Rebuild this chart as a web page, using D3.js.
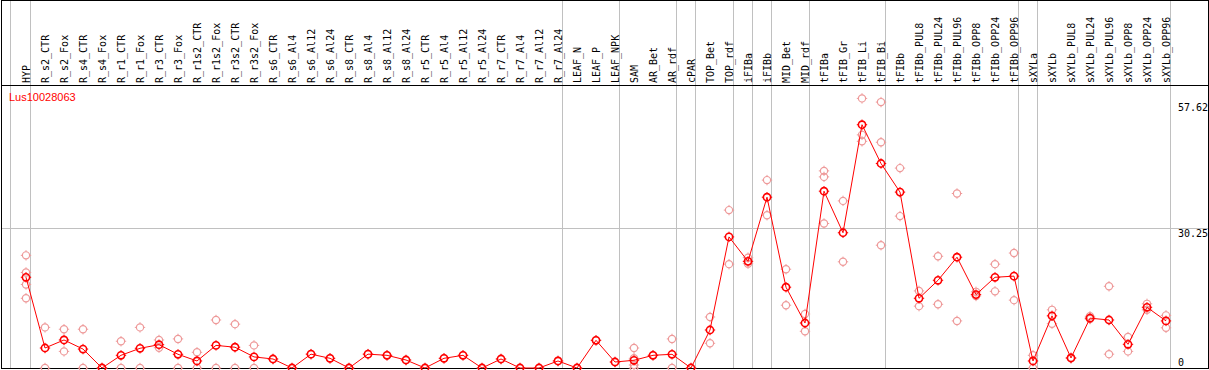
<!DOCTYPE html>
<html lang="en">
<head>
<meta charset="utf-8">
<title>Lus10028063</title>
<script src="https://d3js.org/d3.v7.min.js"></script>
<style>
  body { margin: 0; background: #fff; }
  .lbl { font-family: "DejaVu Sans Mono", monospace; font-size: 10px; fill: #000; }
</style>
</head>
<body>
<div id="chart"></div>
<script>
// sample names, left to right
var categories = ["HYP","R_s2_CTR","R_s2_Fox","R_s4_CTR","R_s4_Fox","R_r1_CTR","R_r1_Fox","R_r3_CTR","R_r3_Fox",
  "R_r1s2_CTR","R_r1s2_Fox","R_r3s2_CTR","R_r3s2_Fox","R_s6_CTR","R_s6_Al4","R_s6_Al12","R_s6_Al24",
  "R_s8_CTR","R_s8_Al4","R_s8_Al12","R_s8_Al24","R_r5_CTR","R_r5_Al4","R_r5_Al12","R_r5_Al24",
  "R_r7_CTR","R_r7_Al4","R_r7_Al12","R_r7_Al24","LEAF_N","LEAF_P","LEAF_NPK","SAM","AR_Bet","AR_rdf",
  "cPAR","TOP_Bet","TOP_rdf","iFIBa","iFIBb","MID_Bet","MID_rdf","tFIBa","tFIB_Gr","tFIB_Li","tFIB_Bi",
  "tFIBb","tFIBb_PUL8","tFIBb_PUL24","tFIBb_PUL96","tFIBb_OPP8","tFIBb_OPP24","tFIBb_OPP96",
  "sXYLa","sXYLb","sXYLb_PUL8","sXYLb_PUL24","sXYLb_PUL96","sXYLb_OPP8","sXYLb_OPP24","sXYLb_OPP96"];

// mean expression
var means = [19.65,4.33,6.07,4.1,0,2.75,4.27,5.05,2.97,
  1.52,4.9,4.5,2.4,1.95,0,3.0,2.1,
  0,3.0,2.75,1.73,0,2.1,2.75,0,
  1.95,0,0,1.52,0,6.0,1.3,1.67,2.75,2.97,
  0,8.23,28.4,23.1,37.0,17.5,9.75,38.3,29.3,52.7,44.3,
  38.1,15.1,19.0,24.0,15.9,19.65,19.9,
  1.52,11.3,2.17,10.8,10.4,5.13,13.15,10.2];

// individual replicates
var replicates = [[24.4,20.7,18.1,15.1],[8.8,0],[8.4,3.6],[8.4,0],[0,0],[5.8,0],[8.8,0],[6.07,4.4],[6.3,0],
  [3.4,0],[10.4,0],[9.5,0],[4.9,0],[1.95],[0],[3.0],[2.1],
  [0],[3.0],[2.75],[1.73],[0],[2.1],[2.75],[0],
  [1.95],[0],[0],[1.52],[0],[6.0],[1.3],[4.33,2.1,0.65,0],[2.75],[6.3,0],
  [0],[11.05,5.35],[34.2,22.5],[23.9,22.6],[40.7,33.1],[21.4,13.6],[11.7,7.95],[42.7,41.4,31.3],[36.2,23.0],[58.4,50.5,49.1],[57.6,48.9,26.6],
  [43.3,32.9],[16.7,13.4],[24.2,13.8],[37.8,10.2],[16.5,15.6],[22.5,16.6],[24.9,14.7],
  [2.75,0],[12.6,9.6],[2.2,2.1],[11.2,10.6],[17.7,3.0],[6.7,3.6],[13.9,12.6],[11.4,8.7]];

// last sample of each group (grey separators)
var groupEnds = ["HYP","R_r7_Al24","LEAF_NPK","AR_rdf","cPAR","TOP_rdf","iFIBa","iFIBb","MID_rdf",
  "tFIB_Bi","tFIBb_OPP96","sXYLa","sXYLb_OPP96"];

var yTicks = [0, 30.25, 57.62];
var title = "Lus10028063";

var width = 1209, height = 370;
var svg = d3.select("#chart").append("svg")
  .attr("width", width).attr("height", height);

var x = d3.scalePoint().domain(categories).range([26, 1166]);
var y = d3.scaleLinear().domain([0, 57.62]).range([368, 102]);

var grey = "#c0c0c0";

// separators
svg.append("line").attr("x1", 10.5).attr("x2", 10.5).attr("y1", 0).attr("y2", 369)
  .attr("stroke", grey);
svg.selectAll(".sep").data(groupEnds).enter().append("line")
  .attr("class", "sep")
  .attr("x1", function(d){ return Math.round(x(d) + 4) + 0.5; })
  .attr("x2", function(d){ return Math.round(x(d) + 4) + 0.5; })
  .attr("y1", 0).attr("y2", 369)
  .attr("stroke", grey);

// horizontal grid
yTicks.filter(function(t){ return t > 0 && t < 57.62; }).forEach(function(t){
  svg.append("line").attr("x1", 1).attr("x2", 1208)
    .attr("y1", Math.round(y(t)) + 0.5).attr("y2", Math.round(y(t)) + 0.5)
    .attr("stroke", grey);
});

// frame + header separator
svg.append("rect").attr("x", 1.5).attr("y", 0.5).attr("width", 1207).attr("height", 368)
  .attr("fill", "none").attr("stroke", "#000");
svg.append("line").attr("x1", 1).attr("x2", 1209).attr("y1", 85.5).attr("y2", 85.5)
  .attr("stroke", "#000");

// column labels
svg.selectAll(".cat").data(categories).enter().append("text")
  .attr("class", "lbl")
  .attr("transform", function(d){ return "translate(" + (x(d) + 4) + ",83) rotate(-90)"; })
  .text(function(d){ return d; });

// y tick labels
svg.selectAll(".yt").data(yTicks).enter().append("text")
  .attr("class", "lbl")
  .attr("x", 1178)
  .attr("y", function(d){ return d === 0 ? 365.5 : y(d) + 8.6; })
  .text(function(d){ return d; });

svg.append("text").attr("x", 9).attr("y", 101)
  .attr("font-family", "Liberation Sans, Arial, sans-serif").attr("font-size", "11px")
  .attr("fill", "#ff0000").text(title);

function marker(g, cx, cy, color, sw) {
  g.append("circle").attr("cx", cx).attr("cy", cy).attr("r", 3.6)
    .attr("fill", "none").attr("stroke", color).attr("stroke-width", sw);
  [[0,-1],[0,1],[-1,0],[1,0]].forEach(function(p){
    g.append("line")
      .attr("x1", cx + p[0] * 3.6).attr("y1", cy + p[1] * 3.6)
      .attr("x2", cx + p[0] * 5.2).attr("y2", cy + p[1] * 5.2)
      .attr("stroke", color).attr("stroke-width", 1);
  });
}

// replicates
var repG = svg.append("g");
categories.forEach(function(c, i){
  replicates[i].forEach(function(v){ marker(repG, x(c), y(v), "#ee9a9a", 1.2); });
});

// mean line
var line = d3.line()
  .x(function(d, i){ return x(categories[i]); })
  .y(function(d){ return y(d); });
svg.append("path").datum(means).attr("d", line)
  .attr("fill", "none").attr("stroke", "#ff0000").attr("stroke-width", 1);

var meanG = svg.append("g");
categories.forEach(function(c, i){ marker(meanG, x(c), y(means[i]), "#ff0000", 1.6); });
</script>
</body>
</html>
